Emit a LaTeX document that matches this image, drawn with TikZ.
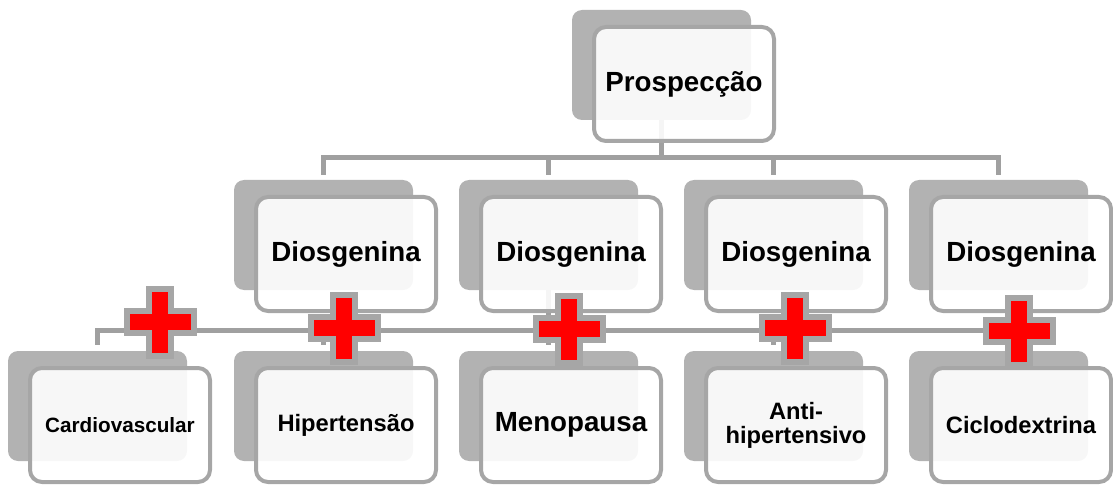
\documentclass[tikz,border=0pt]{standalone}
\usepackage{fontspec}
\setmainfont{Liberation Sans}
\usetikzlibrary{calc}
\pgfdeclarelayer{background}
\pgfsetlayers{background,main}
\definecolor{backgray}{RGB}{178,178,178}
\definecolor{edgegray}{RGB}{166,166,166}
\definecolor{linegray}{RGB}{160,160,160}
\definecolor{crossred}{RGB}{255,0,0}
\tikzset{
  backbox/.style={fill=backgray, rounded corners=10pt, minimum width=179pt, minimum height=110pt, inner sep=0pt, draw=none},
  frontbox/.style={fill=white, fill opacity=0.9, text opacity=1, draw=edgegray, line width=4pt, rounded corners=12pt, minimum width=180pt, minimum height=114pt, inner sep=0pt, align=center, font=\bfseries\fontsize{27.7}{33}\selectfont},
  smalltext/.style={font=\bfseries\fontsize{23.7}{24}\selectfont},
  tinytext/.style={font=\bfseries\fontsize{20.7}{24}\selectfont},
  conn/.style={draw=linegray, line width=5pt},
  redplus/.pic={
    \fill[edgegray] (-14,-36.5) rectangle (14,36.5);
    \fill[edgegray] (-36.5,-14) rectangle (36.5,14);
    \fill[crossred] (-8,-30.5) rectangle (8,30.5);
    \fill[crossred] (-30.5,-8) rectangle (30.5,8);
  }
}
\newcommand\boxpair[5]{%
  \node[backbox] (#1b) at (#2+89.5,-#3-55) {};
  \node[frontbox,#4] (#1f) at (#2+112,-#3-74) {#5};
}
\begin{document}
\begin{tikzpicture}[x=1pt,y=1pt]
\useasboundingbox (0,0) rectangle (1113,-489);
% top
\boxpair{p}{572}{10}{}{Prospecção}
% middle row
\boxpair{da}{234}{180}{}{Diosgenina}
\boxpair{db}{459}{180}{}{Diosgenina}
\boxpair{dc}{684}{180}{}{Diosgenina}
\boxpair{dd}{909}{180}{}{Diosgenina}
% bottom row
\boxpair{c}{8}{351}{tinytext}{Cardiovascular}
\boxpair{h}{234}{351}{smalltext}{Hipertensão}
\boxpair{m}{459}{351}{}{Menopausa}
\boxpair{a}{684}{351}{smalltext}{Anti-\\hipertensivo}
\boxpair{z}{909}{351}{smalltext}{Ciclodextrina}
% connectors behind
\begin{pgfonlayer}{background}
  \coordinate (hubA) at ($(pb.south)+(0,-37)$);
  \draw[conn] (pb.south) -- (hubA);
  \draw[conn] ($(dab.north)+(0,5)$) |- (hubA) -| ($(ddb.north)+(0,5)$);
  \draw[conn] (hubA -| dbb.north) -- ($(dbb.north)+(0,5)$);
  \draw[conn] (hubA -| dcb.north) -- ($(dcb.north)+(0,5)$);
  \coordinate (hubB) at ($(dbb.south)+(0,-40)$);
  \draw[conn] (dbb.south) -- (hubB);
  \draw[conn] ($(cb.north)+(0,6)$) |- (hubB) -| ($(zb.north)+(0,6)$);
  \draw[conn] (hubB -| hb.north) -- ($(hb.north)+(0,6)$);
  \draw[conn] (hubB -| mb.north) -- ($(mb.north)+(0,6)$);
  \draw[conn] (hubB -| ab.north) -- ($(ab.north)+(0,6)$);
\end{pgfonlayer}
% red crosses
\pic at (160,-322) {redplus};
\pic at (344,-328) {redplus};
\pic at (569,-329) {redplus};
\pic at (795,-328) {redplus};
\pic at (1019,-331) {redplus};
\end{tikzpicture}
\end{document}
